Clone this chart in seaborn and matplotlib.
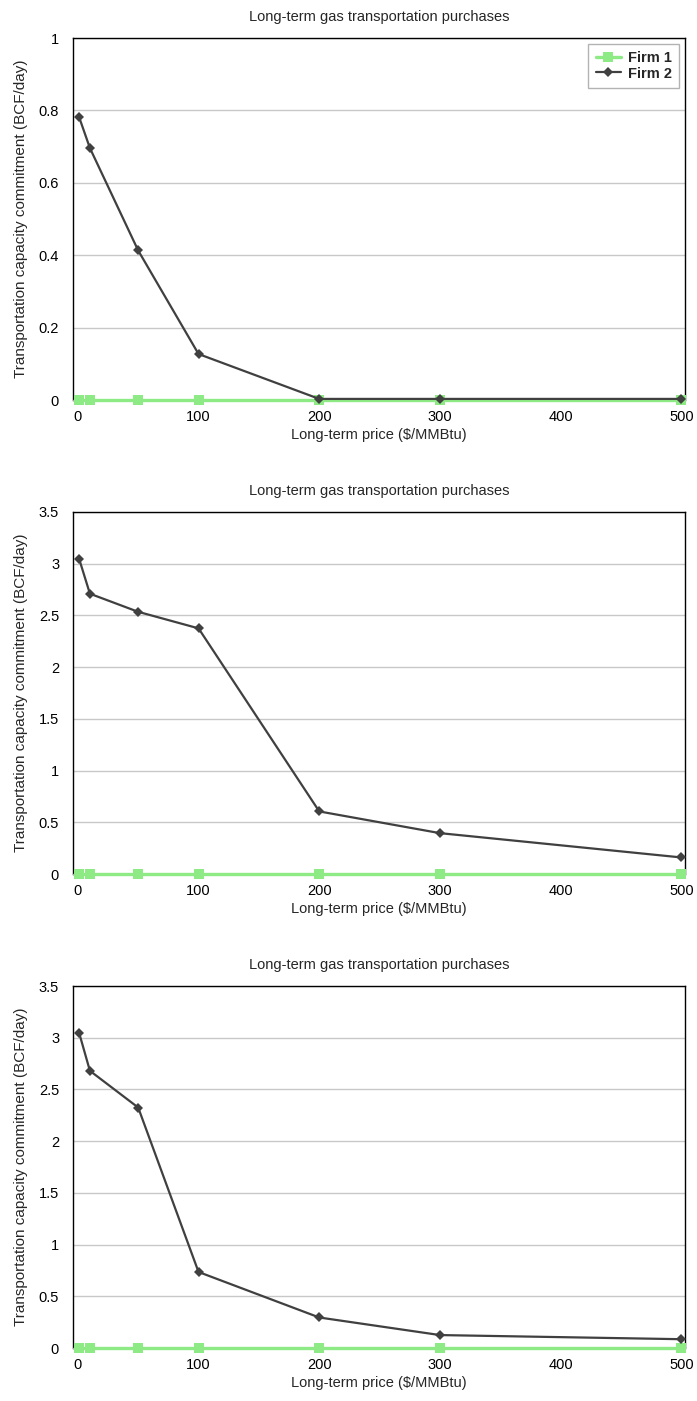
import matplotlib
matplotlib.use("Agg")
import matplotlib.pyplot as plt
import seaborn as sns
import pandas as pd

sns.set_theme(style="white")
plt.rcParams['font.family'] = ['Liberation Sans', 'DejaVu Sans']

prices = [1, 10, 50, 100, 200, 300, 500]
firm1_p1 = [0, 0, 0, 0, 0, 0, 0]
firm2_p1 = [0.782, 0.696, 0.413, 0.127, 0.003, 0.003, 0.003]
firm1_p2 = [0, 0, 0, 0, 0, 0, 0]
firm2_p2 = [3.05, 2.71, 2.535, 2.375, 0.605, 0.395, 0.16]
firm1_p3 = [0, 0, 0, 0, 0, 0, 0]
firm2_p3 = [3.05, 2.68, 2.325, 0.735, 0.295, 0.125, 0.085]

panels = [(firm1_p1, firm2_p1, 1.0, [0, 0.2, 0.4, 0.6, 0.8, 1.0], ["0", "0.2", "0.4", "0.6", "0.8", "1"]),
          (firm1_p2, firm2_p2, 3.5, [0, 0.5, 1, 1.5, 2, 2.5, 3, 3.5], ["0", "0.5", "1", "1.5", "2", "2.5", "3", "3.5"]),
          (firm1_p3, firm2_p3, 3.5, [0, 0.5, 1, 1.5, 2, 2.5, 3, 3.5], ["0", "0.5", "1", "1.5", "2", "2.5", "3", "3.5"])]

title = "Long-term gas transportation purchases"
ylabel = "Transportation capacity commitment (BCF/day)"
xlabel = "Long-term price ($/MMBtu)"
xticks = [0, 100, 200, 300, 400, 500]

W, H = 697, 1401
fig = plt.figure(figsize=(W / 100, H / 100), dpi=100)
green = "#8EEA84"
dark = "#404040"

for i, (f1, f2, ymax, yt, ytl) in enumerate(panels):
    top = 38 + 474 * i
    bottom = 400 + 474 * i
    left, right = 73, 685
    ax = fig.add_axes([left / W, 1 - bottom / H, (right - left) / W, (bottom - top) / H])
    df = pd.DataFrame({"price": prices * 2, "value": list(f1) + list(f2),
                       "firm": ["Firm 1"] * len(prices) + ["Firm 2"] * len(prices)})
    sns.lineplot(data=df[df.firm == "Firm 1"], x="price", y="value", ax=ax, color=green,
                 linewidth=2.4, marker="s", markersize=7, markeredgewidth=0, label="Firm 1",
                 clip_on=False, zorder=4)
    sns.lineplot(data=df[df.firm == "Firm 2"], x="price", y="value", ax=ax, color=dark,
                 linewidth=1.6, marker="D", markersize=5, markeredgewidth=0, label="Firm 2",
                 clip_on=False, zorder=5)
    ax.set_xlim(-4, 503)
    ax.set_ylim(0, ymax)
    ax.set_yticks(yt)
    ax.set_yticklabels(ytl)
    ax.set_xticks(xticks)
    ax.set_xticklabels([str(t) for t in xticks])
    ax.yaxis.grid(True, color="#c8c8c8", linewidth=1.0)
    ax.xaxis.grid(False)
    ax.set_axisbelow(True)
    for s in ["left", "top", "right"]:
        ax.spines[s].set_color("black")
        ax.spines[s].set_linewidth(1.0)
    ax.spines["bottom"].set_color("#a0a0a0")
    ax.spines["bottom"].set_linewidth(1.0)
    ax.tick_params(axis="y", length=0, labelsize=10.5, colors="black", pad=10)
    ax.tick_params(axis="x", length=5, width=1, color="#c0cce0", labelsize=10.5,
                   colors="black", pad=2, direction="out")
    ax.tick_params(axis="x", labelcolor="black")
    ax.set_xlabel(xlabel, fontsize=10.5, labelpad=3)
    ax.set_ylabel(ylabel, fontsize=11, labelpad=8)
    ax.set_title(title, fontsize=10.5, pad=12)
    if i == 0:
        leg = ax.legend(loc="upper right", frameon=True, fancybox=False, fontsize=10.5,
                        borderaxespad=0.4, handlelength=1.7, handletextpad=0.5,
                        borderpad=0.5, labelspacing=0.1)
        leg.get_frame().set_edgecolor("#a0a0a0")
        leg.get_frame().set_linewidth(1.0)
        for t in leg.get_texts():
            t.set_fontweight("bold")
    else:
        lg = ax.get_legend()
        if lg is not None:
            lg.remove()

fig.savefig("out.png", dpi=100)
